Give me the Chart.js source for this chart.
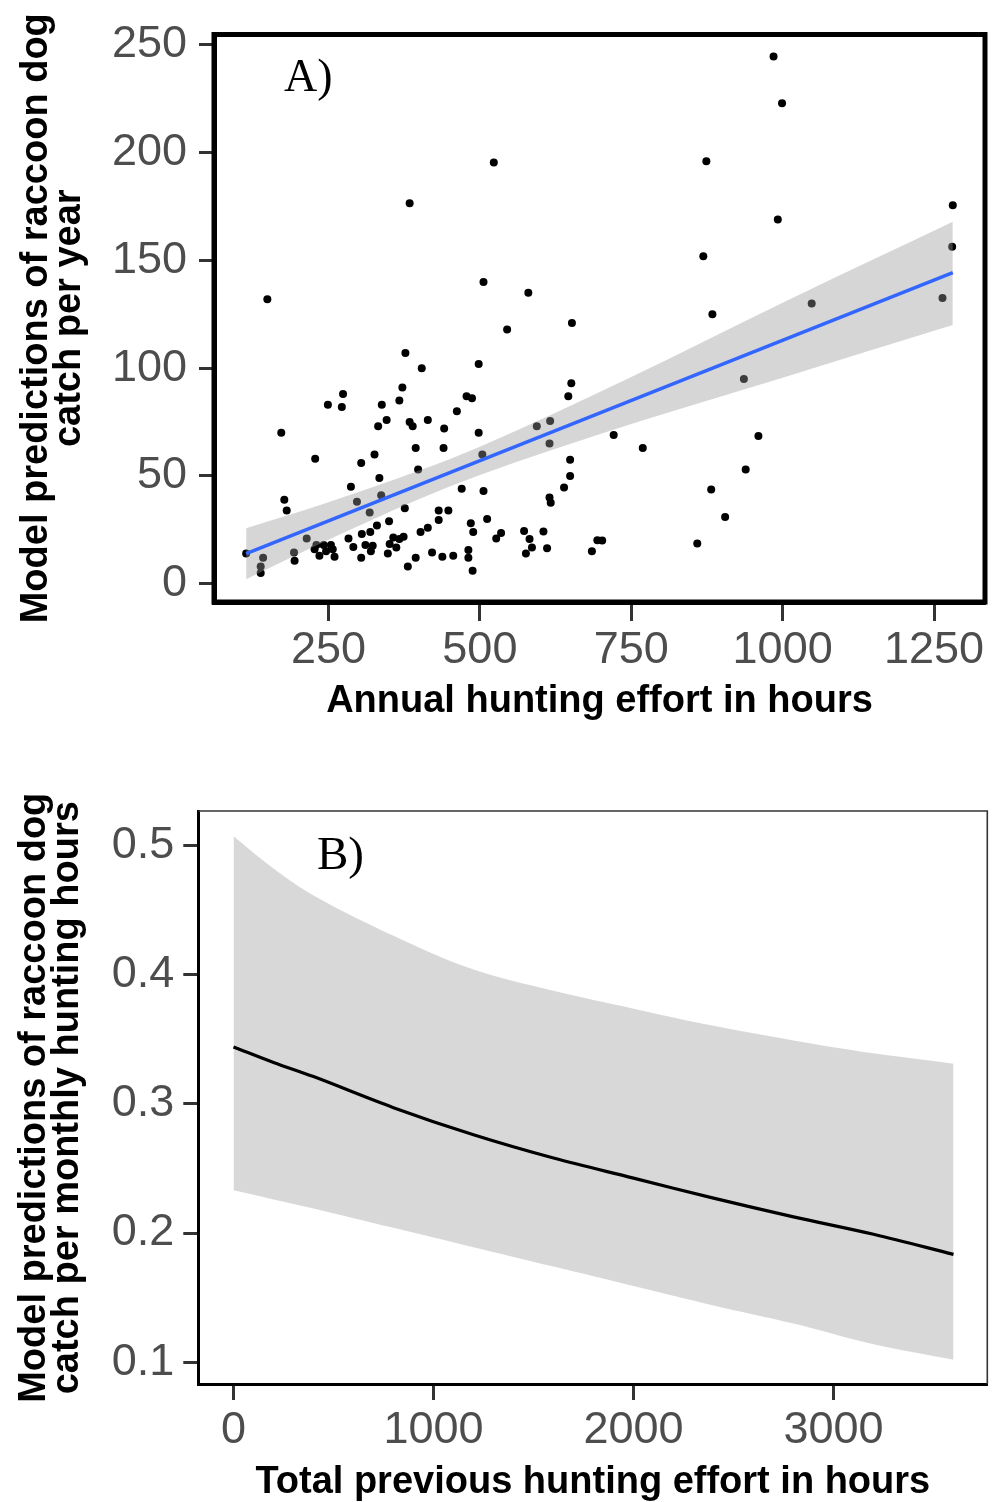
<!DOCTYPE html>
<html><head><meta charset="utf-8">
<script src="https://cdn.jsdelivr.net/npm/chart.js@4.4.0/dist/chart.umd.min.js"></script>
<style>
html,body{margin:0;padding:0;background:#fff;width:998px;height:1502px;overflow:hidden}
#wa{position:absolute;left:0;top:0;width:998px;height:740px}
#wb{position:absolute;left:0;top:740px;width:998px;height:762px}
canvas{display:block}
</style></head><body>
<div id="wa"><canvas id="ca" width="998" height="740"></canvas></div>
<div id="wb"><canvas id="cb" width="998" height="762"></canvas></div>
<script>
// ---------- Panel A data ----------
const effortA = [
 149,506,377,404,498,372,367,274,249,272,
 338,346,332,384,389,414,462,478,487,441,
 498,172,394,440,228,326,304,504,398,334,
 287,470,506,297,337,318,177,181,376,432,
 448,432,350,330,512,485,489,527,414,402,
 214,230,242,254,114,142,138,138,193,194,
 227,235,246,260,257,283,291,305,319,311,
 304,320,323,348,351,357,367,374,362,381,
 394,421,438,456,481,481,488,580,545,652,
 884,651,646,936,594,616,615,721,769,960,
 649,649,639,615,617,535,573,605,582,586,
 576,611,685,694,702,859,882,905,939,985,
 999,874,992,869,1281,1280,1048,1264,384,523
];
const catchA = [
 132,140,107,100,102,91,85,88,83,82,
 83,76,73,75,73,76,80,87,86,72,
 70,70,63,63,58,60,56,60,53,49,
 45,44,43,38,41,33,39,34,35,34,
 34,29.5,29,27,30,28,24,21,26,24,
 21,18,18,18,14,12,8,5,14.5,10.6,
 16,13,15,12.5,16,21,17,23,24,18,
 12,15,17.6,14,18.4,21.4,20.7,21.8,16.8,8,
 12,14.5,12.5,13,15.6,12,6,135,118,121,
 125,93,87,95,73,75.5,65,69,63,68.5,
 57.5,50,44.6,40,37.6,23.5,24.5,24.2,20.7,16.8,
 14,16.5,15,20.2,20,18.7,43.7,31,53,244.6,
 223,196,169,152,175.6,156.3,130,132.6,176.5,195.4
];
const fitX = [114, 1281];
const fitY = [13.9, 144.4];
const bandAX = [114, 250, 400, 500, 750, 1000, 1281];
const bandAUpper = [25.7, 37.8, 52.5, 63.6, 95.9, 130.4, 168];
const bandALower = [2.1, 20.4, 39.3, 50.4, 74.1, 95.6, 120];
const xTicksA = [250, 500, 750, 1000, 1250];
const xTickLabelsA = ['250', '500', '750', '1000', '1250'];
const yTicksA = [0, 50, 100, 150, 200, 250];
const yTickLabelsA = ['0', '50', '100', '150', '200', '250'];

// ---------- Panel B data ----------
const effortB = [0, 200, 400, 800, 1200, 1600, 2000, 2400, 2800, 3200, 3600];
const predB  = [0.344, 0.332, 0.321, 0.297, 0.276, 0.258, 0.2425, 0.227, 0.2125, 0.199, 0.1835];
const upperB = [0.507, 0.482, 0.4612, 0.430, 0.4038, 0.3874, 0.3736, 0.3603, 0.349, 0.339, 0.331];
const lowerB = [0.233, 0.226, 0.219, 0.204, 0.189, 0.174, 0.159, 0.144, 0.130, 0.114, 0.102];
const xTicksB = [0, 1000, 2000, 3000];
const xTickLabelsB = ['0', '1000', '2000', '3000'];
const yTicksB = [0.1, 0.2, 0.3, 0.4, 0.5];
const yTickLabelsB = ['0.1', '0.2', '0.3', '0.4', '0.5'];

const SANS = 'Liberation Sans';
const SERIF = 'Liberation Serif';
const pts = (xs, ys) => xs.map((x, i) => ({x: x, y: ys[i]}));

const frameA = {
  id: 'frameA',
  afterDatasetsDraw(chart) {
    const {ctx, chartArea: a} = chart;
    ctx.save();
    ctx.strokeStyle = '#000';
    ctx.lineWidth = 5;
    ctx.strokeRect(a.left, a.top, a.right - a.left, a.bottom - a.top);
    ctx.restore();
  },
  afterDraw(chart) {
    const {ctx} = chart;
    ctx.save();
    ctx.font = '46px "' + SERIF + '"';
    ctx.fillStyle = '#000';
    ctx.textBaseline = 'alphabetic';
    ctx.textAlign = 'left';
    ctx.fillText('A)', 284, 91);
    ctx.restore();
  }
};

const frameB = {
  id: 'frameB',
  afterDatasetsDraw(chart) {
    const {ctx, chartArea: a} = chart;
    ctx.save();
    ctx.strokeStyle = '#333';
    ctx.lineWidth = 1.6;
    ctx.beginPath();
    ctx.moveTo(a.left, a.top);
    ctx.lineTo(a.right, a.top);
    ctx.lineTo(a.right, a.bottom);
    ctx.stroke();
    ctx.restore();
  },
  afterDraw(chart) {
    const {ctx} = chart;
    ctx.save();
    ctx.font = '47px "' + SERIF + '"';
    ctx.fillStyle = '#000';
    ctx.textBaseline = 'alphabetic';
    ctx.textAlign = 'left';
    ctx.fillText('B)', 317, 129);
    ctx.restore();
  }
};

const tickFont = {family: SANS, size: 45, lineHeight: 1};
const titleFont = {family: SANS, size: 38, weight: 'bold', lineHeight: 0.868};

new Chart(document.getElementById('ca'), {
  type: 'scatter',
  data: {
    datasets: [
      {type: 'line', label: 'fit', data: pts(fitX, fitY), borderColor: '#3366FF', borderWidth: 3.5,
       pointRadius: 0, fill: false, order: 0},
      {type: 'line', label: 'upper', data: pts(bandAX, bandAUpper), borderWidth: 0, borderColor: 'rgba(0,0,0,0)',
       backgroundColor: 'rgba(153,153,153,0.4)', pointRadius: 0, fill: '+1', cubicInterpolationMode: 'monotone', order: 1},
      {type: 'line', label: 'lower', data: pts(bandAX, bandALower), borderWidth: 0, borderColor: 'rgba(0,0,0,0)',
       pointRadius: 0, fill: false, cubicInterpolationMode: 'monotone', order: 1},
      {type: 'scatter', label: 'points', data: pts(effortA, catchA), backgroundColor: '#000', borderWidth: 0,
       pointRadius: 4, order: 2}
    ]
  },
  options: {
    responsive: false, animation: false, events: [],
    layout: {padding: {left: 0, top: 32, right: 13, bottom: 0}},
    plugins: {legend: {display: false}, tooltip: {enabled: false}},
    scales: {
      x: {
        type: 'linear', min: 60.9, max: 1334.2,
        afterBuildTicks: s => { s.ticks = xTicksA.map(v => ({value: v})); },
        afterFit: s => { s.height = 138; },
        grid: {display: true, drawOnChartArea: false, drawTicks: true, tickLength: 19, tickWidth: 3, tickColor: '#333'},
        border: {display: true, width: 5, color: '#000'},
        ticks: {font: tickFont, color: '#4D4D4D', padding: 7, maxRotation: 0, autoSkip: false,
                callback: (v, i) => xTickLabelsA[i]},
        title: {display: true, text: 'Annual hunting effort in hours', font: {family: SANS, size: 38, weight: 'bold', lineHeight: 1},
                color: '#000', padding: {top: 0, bottom: 19}}
      },
      y: {
        type: 'linear', min: -8.5, max: 254.85,
        afterBuildTicks: s => { s.ticks = yTicksA.map(v => ({value: v})); },
        afterFit: s => { s.width = 214; },
        grid: {display: true, drawOnChartArea: false, drawTicks: true, tickLength: 15, tickWidth: 3, tickColor: '#333'},
        border: {display: true, width: 5, color: '#000'},
        ticks: {font: tickFont, color: '#4D4D4D', padding: 12, autoSkip: false,
                callback: (v, i) => yTickLabelsA[i]},
        title: {display: true, text: ['Model predictions of raccoon dog', 'catch per year'], font: titleFont,
                color: '#000', padding: {top: 20, bottom: 0}}
      }
    }
  },
  plugins: [frameA]
});

new Chart(document.getElementById('cb'), {
  type: 'line',
  data: {
    datasets: [
      {label: 'prediction', data: pts(effortB, predB), borderColor: '#000', borderWidth: 3.2,
       pointRadius: 0, fill: false, tension: 0.35, order: 0},
      {label: 'upper', data: pts(effortB, upperB), borderWidth: 0, borderColor: 'rgba(0,0,0,0)',
       backgroundColor: 'rgba(153,153,153,0.38)', pointRadius: 0, fill: '+1', tension: 0.35, order: 1},
      {label: 'lower', data: pts(effortB, lowerB), borderWidth: 0, borderColor: 'rgba(0,0,0,0)',
       pointRadius: 0, fill: false, tension: 0.35, order: 1}
    ]
  },
  options: {
    responsive: false, animation: false, events: [],
    layout: {padding: {left: 0, top: 71, right: 10.7, bottom: 0}},
    plugins: {legend: {display: false}, tooltip: {enabled: false}},
    scales: {
      x: {
        type: 'linear', min: -176, max: 3769,
        afterBuildTicks: s => { s.ticks = xTicksB.map(v => ({value: v})); },
        afterFit: s => { s.height = 117.5; },
        grid: {display: true, drawOnChartArea: false, drawTicks: true, tickLength: 15.5, tickWidth: 3, tickColor: '#333'},
        border: {display: true, width: 3, color: '#000'},
        ticks: {font: tickFont, color: '#4D4D4D', padding: 8, maxRotation: 0, autoSkip: false,
                callback: (v, i) => xTickLabelsB[i]},
        title: {display: true, text: 'Total previous hunting effort in hours', font: {family: SANS, size: 38, weight: 'bold', lineHeight: 1},
                color: '#000', padding: {top: 0, bottom: 0}}
      },
      y: {
        type: 'linear', min: 0.0828, max: 0.5265,
        afterBuildTicks: s => { s.ticks = yTicksB.map(v => ({value: v})); },
        afterFit: s => { s.width = 198.3; },
        grid: {display: true, drawOnChartArea: false, drawTicks: true, tickLength: 15, tickWidth: 3, tickColor: '#333'},
        border: {display: true, width: 3, color: '#000'},
        ticks: {font: tickFont, color: '#4D4D4D', padding: 9, autoSkip: false,
                callback: (v, i) => yTickLabelsB[i]},
        title: {display: true, text: ['Model predictions of raccoon dog', 'catch per monthly hunting hours'], font: titleFont,
                color: '#000', padding: {top: 18, bottom: 0}}
      }
    }
  },
  plugins: [frameB]
});
</script>
</body></html>
